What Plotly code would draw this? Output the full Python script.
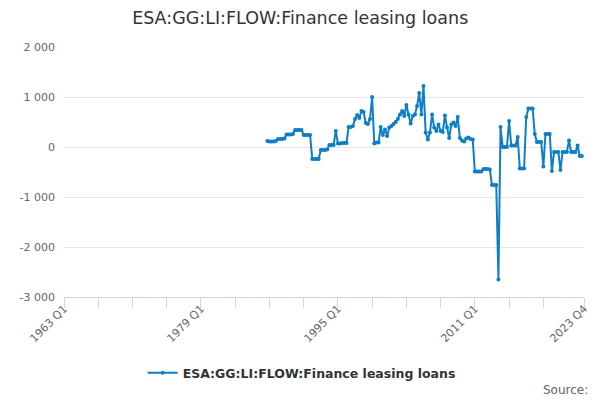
import plotly.graph_objects as go

# quarterly categories 1963 Q1 .. 2023 Q4
years = list(range(1963, 2024))
quarters = [f"{y} Q{q}" for y in years for q in (1, 2, 3, 4)]

series_name = "ESA:GG:LI:FLOW:Finance leasing loans"
first_quarter = "1986 Q4"

# values (millions)
values = [
    120, 110, 110, 110, 120, 160, 160, 160, 170, 250,
    250, 250, 260, 340, 340, 340, 340, 240, 240, 240,
    240, -240, -240, -240, -240, -60, -60, -60, -50, 40,
    40, 40, 320, 70, 70, 80, 80, 80, 400, 400,
    420, 560, 640, 580, 720, 700, 480, 460, 560, 1000,
    70, 90, 90, 400, 240, 350, 220, 390, 420, 460,
    500, 560, 650, 720, 620, 840, 650, 470, 620, 650,
    820, 1080, 650, 1220, 290, 150, 290, 650, 390, 320,
    450, 320, 300, 630, 390, 180, 450, 490, 420, 600,
    180, 130, 110, 170, 190, 160, 150, -490, -490, -490,
    -490, -440, -440, -440, -450, -760, -760, -760, -2650, 400,
    0, 0, 0, 520, 30, 30, 30, 200, -430, -430,
    -430, 600, 770, 770, 770, 260, 100, 100, 100, -390,
    260, 260, 260, -480, -100, -100, -100, -460, -100, -100,
    -100, 130, -100, -100, -100, 30, -180, -180,
]

y_ticks = [-3000, -2000, -1000, 0, 1000, 2000]
y_tick_text = ["-3 000", "-2 000", "-1 000", "0", "1 000", "2 000"]

start = quarters.index(first_quarter)
x_vals = quarters[start:start + len(values)]

# ticks every 16 quarters, labels every 64, plus the last category
tick_idx = list(range(0, 225, 16)) + [len(quarters) - 1]
tick_vals = [quarters[i] for i in tick_idx]
tick_text = [quarters[i] if (i % 64 == 0 or i == len(quarters) - 1) else "" for i in tick_idx]

blue = "#0f7ec6"

fig = go.Figure()
fig.add_trace(go.Scatter(
    x=x_vals, y=values, name="<b>" + series_name + "</b>",
    mode="lines+markers",
    line=dict(color=blue, width=2),
    marker=dict(color=blue, size=4),
    cliponaxis=False,
))

# the page body adds an 8px offset, margins below allow for it
fig.update_layout(
    width=600, height=400,
    paper_bgcolor="white", plot_bgcolor="white",
    font=dict(family="DejaVu Sans", color="#666666", size=11),
    margin=dict(l=53, r=24, t=39, b=111),
    title=dict(text=series_name, x=0.487, xanchor="center", y=0.975, yanchor="middle",
               font=dict(size=17.5, color="#333333")),
    showlegend=True,
    legend=dict(orientation="h", x=0.457, xanchor="center", y=-0.304, yanchor="middle",
                font=dict(size=12.5, color="#333333", family="DejaVu Sans"),
                itemwidth=30),
    xaxis=dict(
        type="category", categoryorder="array", categoryarray=quarters,
        range=[0, len(quarters) - 1],
        tickmode="array", tickvals=tick_vals, ticktext=tick_text,
        tickangle=-45, ticks="outside", ticklen=10, tickcolor="#ccd6eb",
        showline=True, linecolor="#ccd6eb", linewidth=1,
        showgrid=False, zeroline=False,
        tickfont=dict(size=11, color="#666666"),
        ticklabelstandoff=-10,
    ),
    yaxis=dict(
        range=[-3000, 2000],
        tickmode="array", tickvals=y_ticks, ticktext=y_tick_text,
        showgrid=True, gridcolor="#e6e6e6", gridwidth=1,
        zeroline=False, showline=False,
        tickfont=dict(size=11, color="#666666"),
        ticklabelstandoff=8,
    ),
)

fig.add_annotation(text="Source:", xref="paper", yref="paper", x=1.011, y=-0.372,
                   xanchor="right", yanchor="middle", showarrow=False,
                   font=dict(size=12, color="#666666"))

fig.write_html("out.html")
